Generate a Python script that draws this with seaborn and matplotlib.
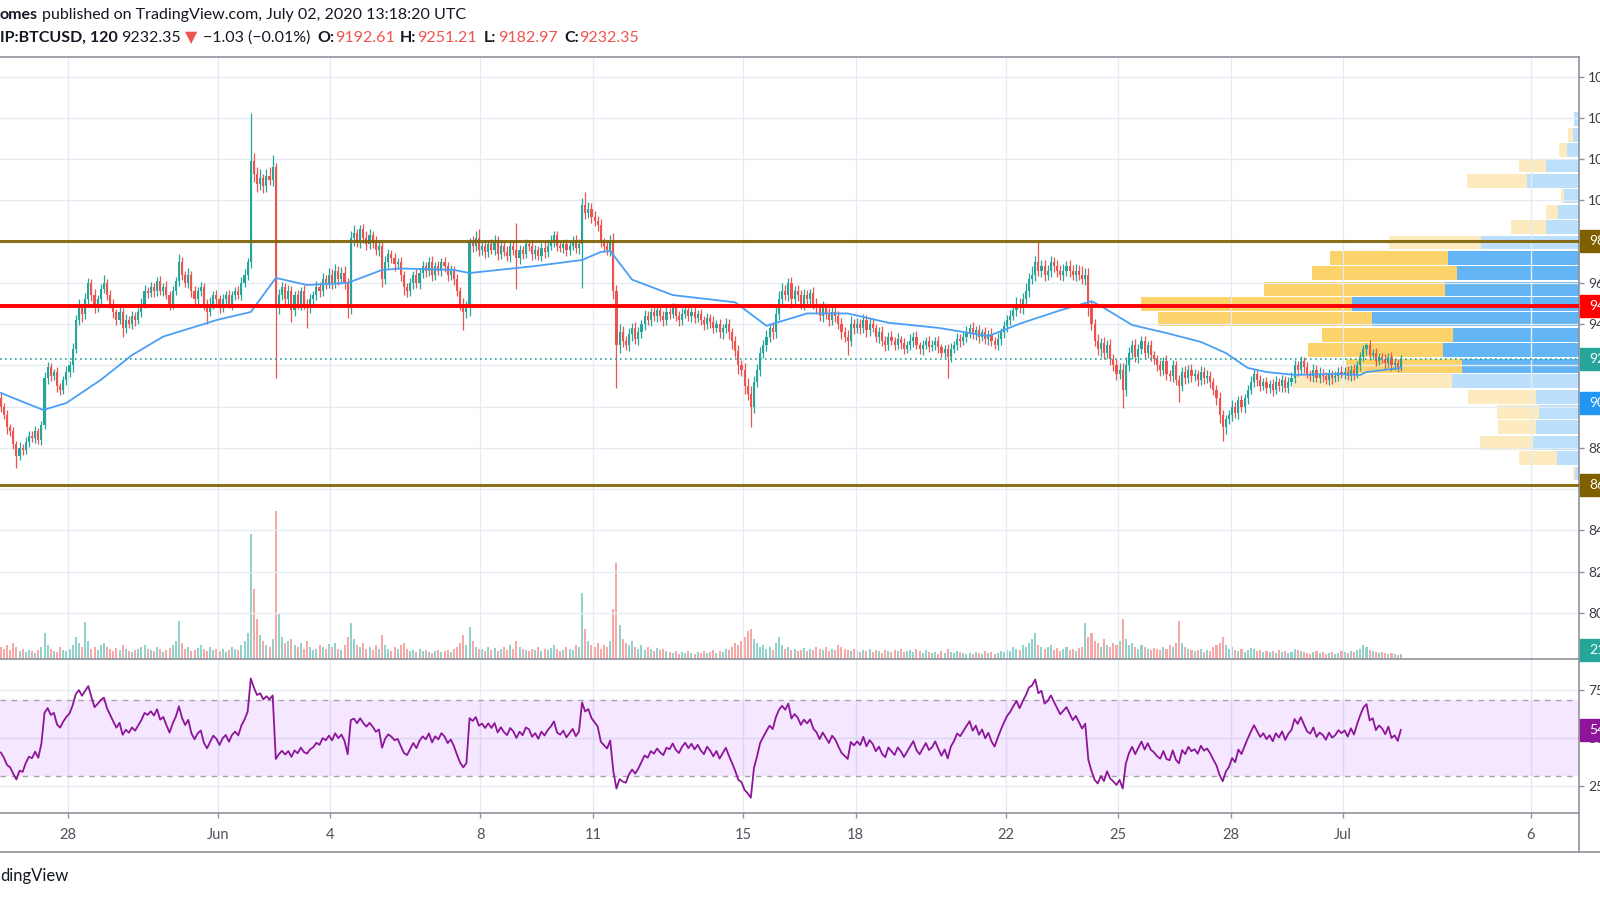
import numpy as np
import pandas as pd
import matplotlib
matplotlib.use("Agg")
import matplotlib.pyplot as plt
import seaborn as sns
from matplotlib.patches import Rectangle
from matplotlib.lines import Line2D

# ---------------- data (2h bars, BTCUSD, 26 May 04:00 -> 02 Jul 12:00) ----------------
open_first = 9040
close_rows = [
    [9000, 8960, 8900, 8880, 8820, 8760, 8800, 8790, 8830, 8860],
    [8850, 8880, 8840, 8910, 9140, 9190, 9150, 9170, 9100, 9080, 9130, 9170],
    [9200, 9280, 9420, 9480, 9450, 9520, 9600, 9540, 9480, 9520, 9570, 9600],
    [9540, 9500, 9460, 9420, 9460, 9380, 9420, 9400, 9440, 9420, 9460, 9500],
    [9560, 9550, 9580, 9560, 9610, 9560, 9580, 9540, 9500, 9560, 9610, 9700],
    [9640, 9600, 9640, 9560, 9520, 9560, 9580, 9500, 9460, 9500, 9540, 9520],
    [9480, 9520, 9540, 9500, 9540, 9560, 9540, 9600, 9640, 9700, 10190, 10130],
    [10080, 10110, 10070, 10120, 10100, 10160, 9480, 9540, 9580, 9520, 9560, 9470],
    [9540, 9500, 9560, 9500, 9480, 9520, 9540, 9580, 9560, 9620, 9600, 9640],
    [9600, 9660, 9620, 9650, 9600, 9480, 9820, 9840, 9800, 9860, 9820, 9790],
    [9830, 9800, 9760, 9780, 9620, 9700, 9740, 9720, 9690, 9700, 9640, 9580],
    [9560, 9600, 9640, 9600, 9650, 9680, 9660, 9700, 9640, 9680, 9660, 9700],
    [9680, 9640, 9660, 9620, 9560, 9500, 9460, 9480, 9800, 9780, 9820, 9760],
    [9780, 9750, 9790, 9760, 9800, 9740, 9780, 9750, 9730, 9780, 9760, 9720],
    [9760, 9740, 9790, 9780, 9740, 9760, 9730, 9770, 9750, 9780, 9800, 9830],
    [9780, 9770, 9790, 9760, 9780, 9800, 9770, 9790, 9980, 9940, 9960, 9920],
    [9900, 9880, 9800, 9780, 9760, 9800, 9560, 9300, 9360, 9320, 9300, 9350],
    [9380, 9330, 9360, 9400, 9440, 9420, 9460, 9440, 9470, 9440, 9420, 9460],
    [9450, 9480, 9440, 9420, 9450, 9470, 9440, 9460, 9430, 9450, 9420, 9400],
    [9430, 9410, 9380, 9400, 9360, 9380, 9400, 9360, 9320, 9270, 9200, 9180],
    [9100, 9060, 9000, 9120, 9180, 9260, 9300, 9340, 9380, 9360, 9450, 9520],
    [9560, 9540, 9600, 9520, 9560, 9540, 9500, 9540, 9520, 9550, 9500, 9480],
    [9440, 9480, 9450, 9420, 9460, 9440, 9400, 9360, 9340, 9320, 9400, 9380],
    [9400, 9380, 9420, 9370, 9400, 9380, 9340, 9360, 9320, 9300, 9340, 9320],
    [9300, 9330, 9310, 9280, 9300, 9320, 9340, 9300, 9280, 9300, 9320, 9290],
    [9300, 9320, 9290, 9260, 9280, 9240, 9280, 9300, 9330, 9320, 9340, 9360],
    [9380, 9350, 9370, 9340, 9360, 9330, 9350, 9320, 9300, 9330, 9360, 9390],
    [9420, 9440, 9470, 9500, 9480, 9520, 9560, 9620, 9640, 9700, 9660, 9680],
    [9640, 9660, 9700, 9680, 9660, 9640, 9660, 9680, 9660, 9640, 9660, 9640],
    [9620, 9640, 9480, 9400, 9320, 9280, 9310, 9260, 9300, 9230, 9200, 9160],
    [9180, 9080, 9200, 9260, 9300, 9240, 9280, 9320, 9260, 9300, 9250, 9230],
    [9200, 9180, 9220, 9160, 9150, 9200, 9130, 9100, 9170, 9140, 9180, 9150],
    [9160, 9130, 9170, 9140, 9150, 9120, 9080, 9040, 8960, 8900, 8940, 8960],
    [9000, 8970, 9030, 9000, 9040, 9080, 9120, 9160, 9130, 9100, 9120, 9090],
    [9110, 9080, 9120, 9100, 9130, 9090, 9120, 9140, 9200, 9180, 9220, 9190],
    [9160, 9150, 9180, 9140, 9160, 9150, 9130, 9160, 9140, 9150, 9170, 9160],
    [9170, 9150, 9180, 9160, 9200, 9240, 9280, 9300, 9250, 9260, 9220, 9240],
    [9230, 9210, 9240, 9200, 9210, 9190, 9232.35],
]
wick_up_rows = [
    [30, 20, 25, 15, 20, 15, 30, 20, 25, 20],
    [20, 25, 15, 20, 30, 25, 20, 15, 20, 15, 20, 25],
    [20, 30, 25, 40, 20, 30, 25, 20, 30, 20, 25, 40],
    [20, 25, 20, 15, 25, 20, 30, 20, 25, 20, 20, 25],
    [30, 20, 25, 20, 20, 25, 20, 30, 20, 25, 20, 40],
    [25, 20, 30, 20, 25, 20, 25, 20, 20, 30, 20, 25],
    [20, 25, 20, 25, 20, 20, 25, 30, 25, 20, 234, 40],
    [30, 40, 20, 30, 40, 60, 20, 30, 25, 20, 30, 25],
    [20, 25, 20, 30, 20, 25, 20, 30, 25, 30, 20, 30],
    [25, 30, 20, 25, 30, 25, 30, 40, 20, 20, 25, 30],
    [30, 20, 25, 20, 20, 30, 25, 20, 25, 20, 25, 20],
    [20, 25, 20, 25, 20, 25, 20, 25, 30, 20, 25, 20],
    [25, 20, 25, 20, 25, 20, 25, 30, 20, 25, 30, 40],
    [25, 30, 20, 25, 30, 25, 20, 25, 30, 20, 25, 130],
    [25, 20, 25, 20, 30, 25, 20, 25, 30, 25, 30, 20],
    [20, 25, 20, 25, 20, 25, 30, 25, 30, 60, 30, 25],
    [30, 25, 30, 20, 25, 30, 40, 30, 40, 30, 25, 30],
    [25, 30, 25, 20, 30, 25, 20, 25, 30, 20, 25, 30],
    [20, 25, 20, 25, 30, 20, 25, 20, 25, 20, 25, 20],
    [25, 20, 30, 20, 25, 20, 30, 25, 20, 25, 30, 25],
    [30, 40, 40, 30, 25, 30, 25, 30, 25, 30, 40, 40],
    [40, 30, 25, 30, 25, 30, 25, 30, 25, 20, 30, 25],
    [25, 30, 25, 30, 25, 30, 25, 30, 25, 30, 40, 25],
    [30, 25, 30, 25, 30, 25, 20, 25, 30, 25, 20, 25],
    [20, 25, 15, 25, 20, 30, 20, 25, 15, 25, 20, 25],
    [25, 20, 25, 15, 20, 25, 30, 20, 25, 20, 25, 30],
    [20, 30, 20, 25, 15, 25, 20, 30, 20, 25, 20, 25],
    [25, 30, 25, 30, 25, 30, 40, 30, 40, 30, 105, 30],
    [30, 25, 30, 25, 30, 25, 30, 25, 30, 25, 30, 25],
    [40, 30, 30, 30, 25, 30, 25, 30, 25, 30, 25, 30],
    [30, 30, 40, 30, 25, 30, 25, 25, 25, 20, 25, 20],
    [20, 25, 20, 30, 20, 25, 20, 25, 20, 25, 20, 25],
    [25, 20, 25, 20, 30, 25, 20, 25, 30, 25, 20, 25],
    [30, 25, 20, 25, 20, 25, 30, 25, 20, 25, 20, 25],
    [20, 25, 30, 20, 25, 20, 25, 30, 25, 20, 25, 20],
    [25, 20, 25, 20, 30, 25, 20, 25, 20, 25, 20, 25],
    [20, 25, 20, 25, 20, 25, 20, 10, 25, 20, 25, 20],
    [20, 25, 20, 25, 20, 20, 19],
]
wick_dn_rows = [
    [25, 20, 30, 20, 25, 55, 20, 25, 20, 25],
    [20, 25, 20, 25, 20, 30, 25, 20, 30, 25, 20, 25],
    [25, 30, 20, 25, 40, 25, 20, 30, 25, 20, 25, 20],
    [25, 20, 30, 25, 20, 40, 25, 20, 25, 30, 20, 25],
    [20, 25, 20, 30, 25, 20, 25, 20, 30, 25, 20, 25],
    [25, 20, 25, 30, 25, 20, 25, 30, 60, 20, 25, 20],
    [25, 20, 25, 20, 30, 25, 20, 25, 20, 25, 30, 40],
    [40, 30, 35, 30, 25, 30, 340, 30, 25, 30, 25, 60],
    [30, 25, 30, 25, 100, 25, 30, 25, 30, 25, 30, 25],
    [30, 25, 30, 25, 30, 50, 30, 40, 25, 30, 25, 30],
    [25, 30, 25, 30, 40, 25, 30, 25, 30, 25, 30, 40],
    [30, 25, 30, 25, 30, 25, 30, 25, 30, 25, 20, 25],
    [25, 30, 25, 30, 25, 30, 90, 30, 40, 30, 25, 30],
    [25, 30, 25, 20, 25, 30, 25, 20, 25, 30, 25, 150],
    [30, 25, 20, 25, 30, 25, 20, 25, 30, 25, 20, 25],
    [25, 20, 25, 30, 25, 20, 25, 30, 215, 30, 25, 30],
    [25, 30, 25, 30, 25, 30, 40, 210, 40, 30, 25, 30],
    [30, 25, 30, 25, 30, 25, 30, 25, 30, 25, 30, 25],
    [25, 20, 25, 30, 25, 20, 25, 30, 25, 20, 25, 30],
    [25, 30, 25, 20, 25, 30, 25, 30, 40, 30, 40, 30],
    [40, 30, 100, 30, 25, 30, 25, 30, 25, 30, 25, 30],
    [30, 25, 30, 40, 25, 30, 25, 30, 25, 30, 25, 30],
    [25, 30, 25, 30, 25, 30, 25, 30, 25, 70, 25, 30],
    [25, 30, 25, 30, 25, 20, 25, 30, 25, 30, 25, 20],
    [25, 20, 30, 25, 20, 25, 30, 20, 25, 30, 20, 25],
    [20, 25, 30, 20, 25, 100, 25, 20, 25, 30, 20, 25],
    [25, 20, 25, 30, 20, 25, 30, 25, 20, 25, 30, 25],
    [30, 25, 20, 30, 25, 30, 25, 30, 25, 30, 25, 30],
    [30, 25, 30, 25, 30, 25, 30, 25, 30, 25, 30, 25],
    [25, 30, 40, 30, 25, 30, 40, 30, 25, 30, 25, 30],
    [25, 86, 30, 25, 30, 25, 30, 25, 30, 25, 30, 25],
    [25, 30, 25, 30, 25, 30, 25, 77, 25, 30, 25, 30],
    [25, 30, 25, 30, 25, 30, 25, 30, 40, 65, 30, 25],
    [30, 25, 30, 25, 30, 25, 20, 25, 30, 25, 20, 25],
    [25, 30, 20, 25, 30, 20, 25, 20, 25, 30, 20, 25],
    [20, 25, 30, 20, 25, 30, 20, 25, 30, 20, 25, 20],
    [25, 20, 25, 30, 20, 25, 20, 30, 25, 20, 25, 20],
    [20, 25, 20, 25, 20, 20, 17],
]
volume_rows = [
    [12, 10, 14, 9, 16, 12, 8, 10, 7, 9],
    [8, 6, 9, 12, 26, 14, 10, 8, 7, 12, 9, 8],
    [10, 14, 22, 16, 12, 37, 18, 10, 12, 9, 14, 16],
    [12, 10, 8, 11, 9, 14, 10, 8, 7, 9, 10, 12],
    [14, 10, 9, 8, 12, 10, 7, 9, 11, 14, 18, 38],
    [16, 10, 12, 8, 9, 11, 14, 10, 8, 12, 9, 10],
    [8, 10, 7, 9, 12, 10, 9, 14, 18, 26, 125, 70],
    [40, 24, 18, 14, 12, 20, 148, 45, 22, 16, 18, 20],
    [14, 12, 16, 10, 18, 12, 9, 10, 14, 12, 10, 15],
    [12, 16, 10, 9, 14, 22, 36, 20, 14, 12, 16, 10],
    [12, 9, 14, 10, 24, 14, 10, 8, 12, 10, 14, 16],
    [10, 8, 9, 7, 10, 8, 9, 7, 6, 8, 9, 7],
    [8, 9, 7, 10, 12, 16, 24, 14, 32, 18, 12, 10],
    [10, 8, 12, 9, 11, 8, 10, 12, 9, 14, 10, 18],
    [12, 10, 9, 8, 10, 9, 12, 8, 10, 9, 11, 14],
    [10, 8, 9, 12, 10, 9, 14, 12, 66, 30, 18, 14],
    [12, 16, 10, 14, 12, 18, 50, 96, 34, 20, 16, 14],
    [18, 12, 10, 14, 9, 12, 10, 8, 11, 9, 10, 8],
    [7, 6, 8, 5, 7, 6, 8, 6, 5, 7, 6, 8],
    [6, 7, 9, 6, 8, 7, 10, 9, 12, 16, 14, 18],
    [22, 28, 30, 20, 16, 12, 14, 10, 12, 9, 16, 22],
    [14, 10, 12, 9, 10, 8, 9, 11, 8, 10, 9, 12],
    [10, 9, 12, 8, 10, 9, 14, 12, 10, 9, 8, 10],
    [8, 7, 9, 8, 10, 7, 9, 8, 6, 9, 8, 7],
    [9, 8, 10, 7, 8, 9, 7, 10, 8, 6, 9, 7],
    [6, 7, 5, 8, 6, 10, 7, 6, 8, 7, 6, 5],
    [6, 5, 7, 6, 5, 8, 6, 7, 5, 6, 8, 7],
    [9, 8, 12, 10, 9, 14, 12, 16, 20, 26, 14, 12],
    [10, 12, 14, 9, 11, 8, 10, 12, 9, 10, 8, 11],
    [12, 36, 22, 26, 18, 16, 12, 20, 14, 12, 16, 14],
    [18, 40, 20, 14, 16, 12, 10, 14, 12, 10, 9, 11],
    [10, 9, 12, 10, 14, 12, 16, 38, 16, 12, 10, 9],
    [8, 9, 10, 7, 9, 8, 12, 14, 16, 22, 14, 10],
    [12, 9, 8, 10, 7, 9, 11, 10, 8, 9, 7, 8],
    [7, 8, 6, 9, 7, 8, 6, 7, 10, 9, 8, 7],
    [6, 5, 7, 8, 6, 7, 5, 6, 7, 5, 6, 8],
    [7, 6, 8, 7, 9, 10, 14, 12, 9, 8, 7, 6],
    [7, 6, 5, 6, 5, 4, 5],
]

# moving average (bar index, price)
ma_bar = [0, 6, 13.6, 21, 32, 42, 52, 64, 69, 80, 88, 98, 111, 122, 128, 145, 150, 170,
          186, 192, 195, 202, 215, 235, 245, 258, 271, 284, 300, 316, 326, 339, 349, 352,
          362, 373, 384, 392, 399, 405, 414, 427, 435, 437, 448]
ma_price = [9067, 9030, 8984, 9018, 9130, 9250, 9340, 9396, 9420, 9459, 9624, 9590, 9600,
            9663, 9670, 9663, 9648, 9680, 9711, 9750, 9755, 9616, 9541, 9506, 9392, 9452,
            9452, 9407, 9382, 9342, 9402, 9467, 9511, 9488, 9396, 9357, 9314, 9260, 9188,
            9168, 9154, 9159, 9154, 9168, 9188]

# visible-range volume profile (24 rows, top to bottom)
vp_price = [10393, 10318, 10244, 10169, 10094, 10020, 9945, 9870, 9796, 9721, 9646, 9572,
            9497, 9423, 9348, 9273, 9199, 9124, 9049, 8975, 8900, 8826, 8751, 8676]
vp_up = [5, 6, 12, 33, 52, 15, 21, 33, 98, 131, 122, 134, 227, 207, 126, 136, 117, 127,
         43, 40, 43, 46, 22, 4]
vp_down = [0, 5, 8, 27, 60, 3, 12, 35, 92, 118, 145, 181, 211, 214, 131, 135, 116, 159,
           68, 42, 38, 53, 38, 2]
vp_in_value_area = [False] * 9 + [True] * 8 + [False] * 7
vp_row_height = 74.6

level_top = 9805
level_red = 9490
level_bottom = 8620
level_blue = 9018
rsi_seed_gain, rsi_seed_loss = 20.0, 24.0

day_bar = [22, 70, 106, 154, 190, 238, 274, 322, 358, 394, 430, 490]
day_label = ["28", "Jun", "4", "8", "11", "15", "18", "22", "25", "28", "Jul", "6"]
price_ticks = [8000, 8200, 8400, 8600, 8800, 9000, 9200, 9400, 9600, 9800, 10000, 10200,
               10400, 10600]
rsi_ticks = [25, 50, 75]

# ---------------- derived series ----------------
c = np.array(sum(close_rows, []), float)
wu = np.array(sum(wick_up_rows, []), float)
wd = np.array(sum(wick_dn_rows, []), float)
vol = np.array(sum(volume_rows, []), float)
n = len(c)
x = np.arange(n)
o = np.r_[open_first, c[:-1]]
hi = np.maximum(o, c) + wu
lo = np.minimum(o, c) - wd
up = c >= o

d = np.diff(np.r_[open_first, c])
ag, al = rsi_seed_gain, rsi_seed_loss
rsi = []
for dv in d:
    ag = (ag * 13 + max(dv, 0)) / 14
    al = (al * 13 + max(-dv, 0)) / 14
    rsi.append(100 - 100 / (1 + ag / al))
rsi = np.array(rsi)

# ---------------- style ----------------
sns.set_theme(style="white")
plt.rcParams['font.family'] = ['Lato', 'DejaVu Sans']
TEAL, RED = "#26a69a", "#ef5350"
GRID = "#e4ebf3"
AX = "#8f929b"
TXT = "#3a3d46"
W, H = 1600, 900

fig = plt.figure(figsize=(16, 9), dpi=100)
fig.patch.set_facecolor("white")

def fx(px):
    return px / W

def fy(py):
    return 1 - py / H

right_px = 1579
ax_p = fig.add_axes([0, fy(659), fx(right_px), (659 - 57) / H])
ax_r = fig.add_axes([0, fy(813), fx(right_px), (813 - 659) / H])
xlim = (-0.25, 505.0)

# volume (behind)
ax_v = ax_p.twinx()
ax_v.set_zorder(1)
ax_v.axis("off")
vol_colors = [TEAL if u else RED for u in up]
ax_v.bar(x, vol, width=0.66, color=vol_colors, alpha=0.5, linewidth=0)
ax_v.set_ylim(0, 602)
ax_v.set_xlim(*xlim)

# volume profile
ax_vp = ax_p.twiny()
ax_vp.set_zorder(2)
ax_vp.axis("off")
for pr, u_, d_, va in zip(vp_price, vp_up, vp_down, vp_in_value_area):
    a = 0.7 if va else 0.3
    ax_vp.barh(pr, u_, height=vp_row_height * 0.9, left=0, color="#2196f3", alpha=a, linewidth=0)
    ax_vp.barh(pr, d_, height=vp_row_height * 0.9, left=u_, color="#fbc02d", alpha=a, linewidth=0)
ax_vp.set_xlim(right_px, 0)

# price pane
ax_p.set_zorder(3)
ax_p.patch.set_visible(False)
ax_p.set_xlim(*xlim)
ax_p.set_ylim(7777, 10695)
ax_vp.set_ylim(7777, 10695)

cols = np.where(up, TEAL, RED)
ax_p.vlines(x, lo, hi, colors=cols, linewidth=0.9, zorder=3)
body_h = np.maximum(np.abs(c - o), 4)
ax_p.bar(x, body_h, bottom=np.minimum(o, c), width=0.68, color=cols, linewidth=0, zorder=4)

ma_df = pd.DataFrame({"bar": ma_bar, "ma": ma_price})
sns.lineplot(data=ma_df, x="bar", y="ma", ax=ax_p, color="#4a9ff5", linewidth=1.3,
             estimator=None, sort=True, zorder=5)

ax_p.axhline(level_top, color="#7f6000", linewidth=2.2, zorder=6, alpha=0.9)
ax_p.axhline(level_bottom, color="#7f6000", linewidth=2.2, zorder=6, alpha=0.9)
ax_p.axhline(level_red, color="#ff0000", linewidth=2.8, zorder=6)
ax_p.axhline(c[-1], color=TEAL, linewidth=1.2, linestyle=(0, (1, 2)), zorder=6)

ax_p.set_xticks([b - 0.5 for b in day_bar])
ax_p.set_yticks(price_ticks)
ax_p.set_yticklabels([f"{t:.2f}" for t in price_ticks])
ax_p.grid(True, color=GRID, linewidth=1)
ax_p.tick_params(axis="x", bottom=False, labelbottom=False, top=False)
ax_p.tick_params(axis="y", left=False, labelleft=False, right=True, labelright=True,
                 length=3.5, width=1, color=AX, pad=3, labelsize=10, labelcolor=TXT)
ax_p.set_xlabel("")
ax_p.set_ylabel("")
ax_p.spines["left"].set_visible(False)
for s in ["top", "right", "bottom"]:
    ax_p.spines[s].set_color(AX)
    ax_p.spines[s].set_linewidth(1.2)

# RSI pane
ax_r.set_xlim(*xlim)
ax_r.set_ylim(10.9, 91.1)
ax_r.axhspan(30, 70, color="#9915ff", alpha=0.1, linewidth=0)
ax_r.axhline(70, color="#a7a3ad", linewidth=1, linestyle=(0, (4, 4)))
ax_r.axhline(30, color="#a7a3ad", linewidth=1, linestyle=(0, (4, 4)))
rsi_df = pd.DataFrame({"bar": x, "rsi": rsi})
sns.lineplot(data=rsi_df, x="bar", y="rsi", ax=ax_r, color="#8e1599", linewidth=1.3,
             estimator=None)
ax_r.set_xticks([b - 0.5 for b in day_bar])
ax_r.set_xticklabels(day_label)
ax_r.set_yticks(rsi_ticks)
ax_r.set_yticklabels([f"{t:.2f}" for t in rsi_ticks])
ax_r.grid(True, color=GRID, linewidth=1)
ax_r.tick_params(axis="x", bottom=True, length=3.5, width=1, color=AX, pad=7,
                 labelsize=10.5, labelcolor="#50535e")
ax_r.tick_params(axis="y", left=False, labelleft=False, right=True, labelright=True,
                 length=3.5, width=1, color=AX, pad=3, labelsize=10, labelcolor=TXT)
ax_r.set_xlabel("")
ax_r.set_ylabel("")
ax_r.spines["left"].set_visible(False)
ax_r.spines["top"].set_visible(False)
for s in ["right", "bottom"]:
    ax_r.spines[s].set_color(AX)
    ax_r.spines[s].set_linewidth(1.2)

# extra frame lines
fig.add_artist(Line2D([0, 1], [fy(852), fy(852)], transform=fig.transFigure, color=AX, lw=1.2))
fig.add_artist(Line2D([fx(right_px), fx(right_px)], [fy(813), fy(852)], transform=fig.transFigure,
                      color=AX, lw=1.2))

# colored axis labels
def axis_label(ax, value, text, color):
    yd = ax.transData.transform((0, value))[1]
    yf = fig.transFigure.inverted().transform((0, yd))[1]
    hh = 22 / H
    fig.add_artist(Rectangle((fx(right_px + 1), yf - hh / 2), fx(30), hh,
                             transform=fig.transFigure, color=color, zorder=20))
    fig.text(fx(1589), yf, text, color="white", fontsize=10, va="center", ha="left", zorder=21)

fig.canvas.draw()
axis_label(ax_p, level_top, f"{level_top:.2f}", "#7f6000")
axis_label(ax_p, level_red, f"{level_red:.2f}", "#ff0000")
axis_label(ax_p, c[-1], f"{c[-1]:.2f}", TEAL)
axis_label(ax_p, level_blue, f"{level_blue:.2f}", "#2196f3")
axis_label(ax_p, level_bottom, f"{level_bottom:.2f}", "#7f6000")
axis_label(ax_r, rsi[-1], f"{rsi[-1]:.2f}", "#8e1599")
# volume value label at the pane bottom
yd = ax_v.transData.transform((0, 9))[1]
yf = fig.transFigure.inverted().transform((0, yd))[1]
fig.add_artist(Rectangle((fx(right_px + 1), yf - 11 / H), fx(30), 22 / H,
                         transform=fig.transFigure, color=TEAL, zorder=20))
fig.text(fx(1589), yf, "21.05K", color="white", fontsize=10, va="center", zorder=21)

# header
hfs = 11.5
fig.text(fx(0), fy(15), "omes", fontsize=hfs, fontweight="bold", color="#131722", va="center")
fig.text(fx(42), fy(15), "published on TradingView.com, July 02, 2020 13:18:20 UTC",
         fontsize=hfs, color="#131722", va="center")
segs = [(0, "IP:BTCUSD, 120", "bold", "#131722"),
        (121, "9232.35", "normal", "#131722"),
        (185, "\u25BC", "normal", RED),
        (203, "\u22121.03 (\u22120.01%)", "normal", "#131722"),
        (317, "O:", "bold", "#131722"),
        (335, "9192.61", "normal", RED),
        (400, "H:", "bold", "#131722"),
        (417, "9251.21", "normal", RED),
        (484, "L:", "bold", "#131722"),
        (498, "9182.97", "normal", RED),
        (564, "C:", "bold", "#131722"),
        (579, "9232.35", "normal", RED)]
for px_, t, wgt, col in segs:
    fig.text(fx(px_), fy(38), t, fontsize=hfs, fontweight=wgt, color=col, va="center",
             family=["Lato", "DejaVu Sans"])

fig.text(fx(0), fy(876), "dingView", fontsize=12, color="#131722", va="center")

fig.savefig("out.png", dpi=100, facecolor="white")
